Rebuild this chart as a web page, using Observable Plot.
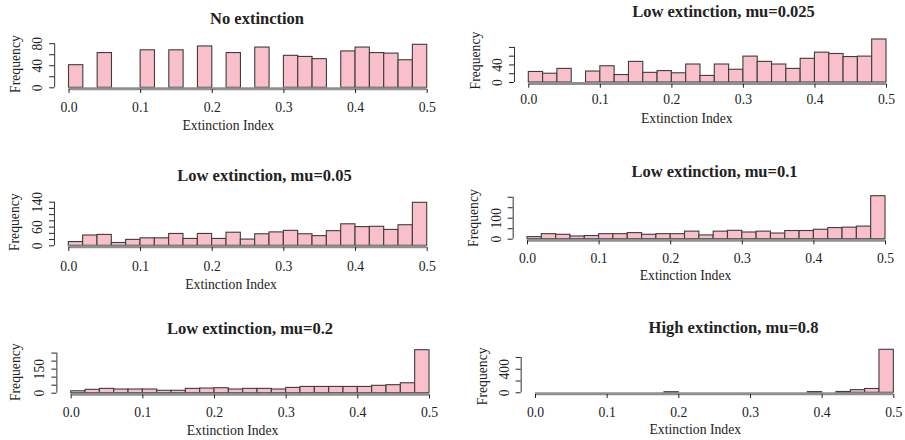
<!DOCTYPE html>
<html><head><meta charset="utf-8">
<script src="https://cdn.jsdelivr.net/npm/d3@7"></script>
<script src="https://cdn.jsdelivr.net/npm/@observablehq/plot@0.6"></script>
<style>
body{margin:0;background:#fff;}
#wrap{position:relative;width:905px;height:440px;overflow:hidden;background:#fff;}
</style></head><body><div id="wrap"></div>
<script>
// ---- data ----
const breaks = [0, 0.02, 0.04, 0.06, 0.08, 0.1, 0.12, 0.14, 0.16, 0.18, 0.2, 0.22, 0.24, 0.26, 0.28, 0.3, 0.32, 0.34, 0.36, 0.38, 0.4, 0.42, 0.44, 0.46, 0.48, 0.5];
const xTicks = [0, 0.1, 0.2, 0.3, 0.4, 0.5];
const titles = ["No extinction", "Low extinction, mu=0.025", "Low extinction, mu=0.05", "Low extinction, mu=0.1", "Low extinction, mu=0.2", "High extinction, mu=0.8"];
const countsNone  = [41, 0, 63, 0, 0, 68, 0, 68, 0, 75, 0, 63, 0, 73, 0, 58, 56, 52, 0, 66, 73, 63, 62, 50, 78];
const countsMu025 = [24, 20, 31, 0, 25, 37, 17, 47, 22, 26, 21, 41, 15, 41, 29, 59, 47, 41, 31, 54, 68, 65, 58, 59, 98];
const countsMu05  = [12, 33, 35, 9, 19, 24, 24, 38, 22, 38, 22, 42, 20, 37, 43, 48, 37, 31, 47, 69, 60, 61, 51, 66, 138];
const countsMu1   = [10, 24, 21, 13, 15, 24, 24, 29, 21, 24, 24, 36, 18, 36, 40, 32, 36, 27, 39, 39, 45, 53, 55, 60, 205];
const countsMu2   = [12, 21, 27, 23, 23, 23, 15, 15, 27, 29, 31, 23, 27, 27, 23, 33, 39, 39, 39, 39, 39, 46, 50, 62, 268];
const countsMu8   = [0, 0, 0, 0, 0, 0, 0, 0, 0, 10, 0, 0, 0, 0, 0, 0, 0, 0, 0, 12, 0, 14, 45, 65, 730];
const yTicks1 = [0, 20, 40, 60, 80],  yLabels1 = [0, 40, 80];
const yTicks2 = [0, 20, 40, 60, 80],  yLabels2 = [0, 40];
const yTicks3 = [0, 20, 40, 60, 80, 100, 120, 140], yLabels3 = [0, 60, 140];
const yTicks4 = [0, 50, 100, 150, 200], yLabels4 = [0, 100];
const yTicks5 = [0, 50, 100, 150, 200, 250], yLabels5 = [0, 150];
const yTicks6 = [0, 200, 400, 600], yLabels6 = [0, 400];
const xLabel = "Extinction Index", yLabel = "Frequency";

// ---- layout (pixel positions, global) ----
const layout = [
  {left:0,   top:0,   w:450, h:140, x0:68.5, x1:426.7, y0:87.3,  tx:256.5, ty:18.3,  fx:15,    fy:63.5,  ax:227.8, ay:125,   ly:106.7},
  {left:450, top:0,   w:455, h:140, x0:528.3,x1:886,   y0:82,    tx:723,   ty:11.7,  fx:475,   fy:60,    ax:686.3, ay:118.3, ly:99.3},
  {left:0,   top:140, w:450, h:150, x0:68.3, x1:426.7, y0:245.3, tx:264,   ty:175,   fx:14,    fy:221.7, ax:230.5, ay:284,   ly:266},
  {left:450, top:140, w:455, h:150, x0:527,  x1:885,   y0:238.7, tx:714,   ty:171.7, fx:472.7, fy:217.5, ax:685,   ay:275,   ly:257.7},
  {left:0,   top:290, w:450, h:150, x0:70.7, x1:429,   y0:392.7, tx:249.5, ty:328.3, fx:15,    fy:371.7, ax:232,   ay:430,   ly:412.3},
  {left:450, top:290, w:455, h:150, x0:535,  x1:893.3, y0:392.3, tx:733,   ty:327.7, fx:481.7, fy:375.8, ax:694.8, ay:429.3, ly:412.3}
];

const panels = [
  [countsNone, yTicks1, yLabels1],
  [countsMu025, yTicks2, yLabels2],
  [countsMu05, yTicks3, yLabels3],
  [countsMu1, yTicks4, yLabels4],
  [countsMu2, yTicks5, yLabels5],
  [countsMu8, yTicks6, yLabels6]
];

const FONT = "'Liberation Serif', 'Times New Roman', serif";
const FS = 13.7;
const wrap = document.getElementById("wrap");

panels.forEach(([counts, yTicks, yLabels], p) => {
  const L = layout[p];
  const H = 43;
  const ext = 0.04 * (L.x1 - L.x0);
  const lx0 = L.x0 - L.left, lx1 = L.x1 - L.left, ly0 = L.y0 - L.top;
  const width = Math.max(L.w, Math.ceil(lx1 + ext + 2));
  const height = L.h;
  const marginLeft = lx0 - ext;
  const marginRight = width - (lx1 + ext);
  const marginTop = ly0 - 1.04 * H;
  const frameBottom = ly0 + 0.04 * H;
  const marginBottom = height - frameBottom;
  const cx = (marginLeft + width - marginRight) / 2;
  const cy = (marginTop + frameBottom) / 2;
  const bins = counts.map((c, i) => ({lo: breaks[i], hi: breaks[i + 1], count: c}));
  const M = d3.max(counts);
  const svg = Plot.plot({
    width, height, marginLeft, marginRight, marginTop, marginBottom,
    style: {fontFamily: FONT, fontSize: FS + "px", color: "#222", background: "transparent", overflow: "visible"},
    x: {domain: [xTicks[0], xTicks[xTicks.length - 1]], range: [lx0, lx1], label: null},
    y: {domain: [0, M], range: [ly0, ly0 - H], label: null},
    marks: [
      Plot.rectY(bins, {x1: "lo", x2: "hi", y: "count", fill: "#f9c0cb", stroke: "#3d3d3d", strokeWidth: 1.1, inset: 0}),
      Plot.ruleY([0], {x1: xTicks[0], x2: xTicks[xTicks.length - 1], stroke: "#8f8f8f", strokeWidth: 3, dy: 1}),
      Plot.axisX(xTicks, {anchor: "bottom", tickSize: 4, tickPadding: L.ly - L.top - frameBottom - 4, lineAnchor: "middle", fontSize: FS, tickFormat: d3.format(".1f"), label: null}),
      Plot.ruleX([xTicks[0]], {y1: yTicks[0], y2: yTicks[yTicks.length - 1], dx: -ext, stroke: "#333"}),
      Plot.axisY(yTicks, {anchor: "left", tickSize: 5, tickPadding: 12, tickRotate: -90, textAnchor: "middle", lineAnchor: "middle", fontSize: FS, tickFormat: d => yLabels.includes(d) ? String(d) : "", label: null}),
      Plot.text([titles[p]], {text: d => d, frameAnchor: "top", textAnchor: "middle", lineAnchor: "middle", dx: L.tx - L.left - cx, dy: L.ty - L.top - marginTop, fontSize: 16.5, fontWeight: "bold", fill: "#222"}),
      Plot.text([yLabel], {text: d => d, frameAnchor: "left", textAnchor: "middle", lineAnchor: "middle", rotate: -90, dx: L.fx - L.left - marginLeft, dy: L.fy - L.top - cy, fontSize: FS, fill: "#222"}),
      Plot.text([xLabel], {text: d => d, frameAnchor: "bottom", textAnchor: "middle", lineAnchor: "middle", dx: L.ax - L.left - cx, dy: L.ay - L.top - frameBottom, fontSize: FS, fill: "#222"})
    ]
  });
  svg.style.position = "absolute";
  svg.style.left = L.left + "px";
  svg.style.top = L.top + "px";
  svg.style.maxWidth = "none";
  wrap.appendChild(svg);
});
</script>
</body></html>
